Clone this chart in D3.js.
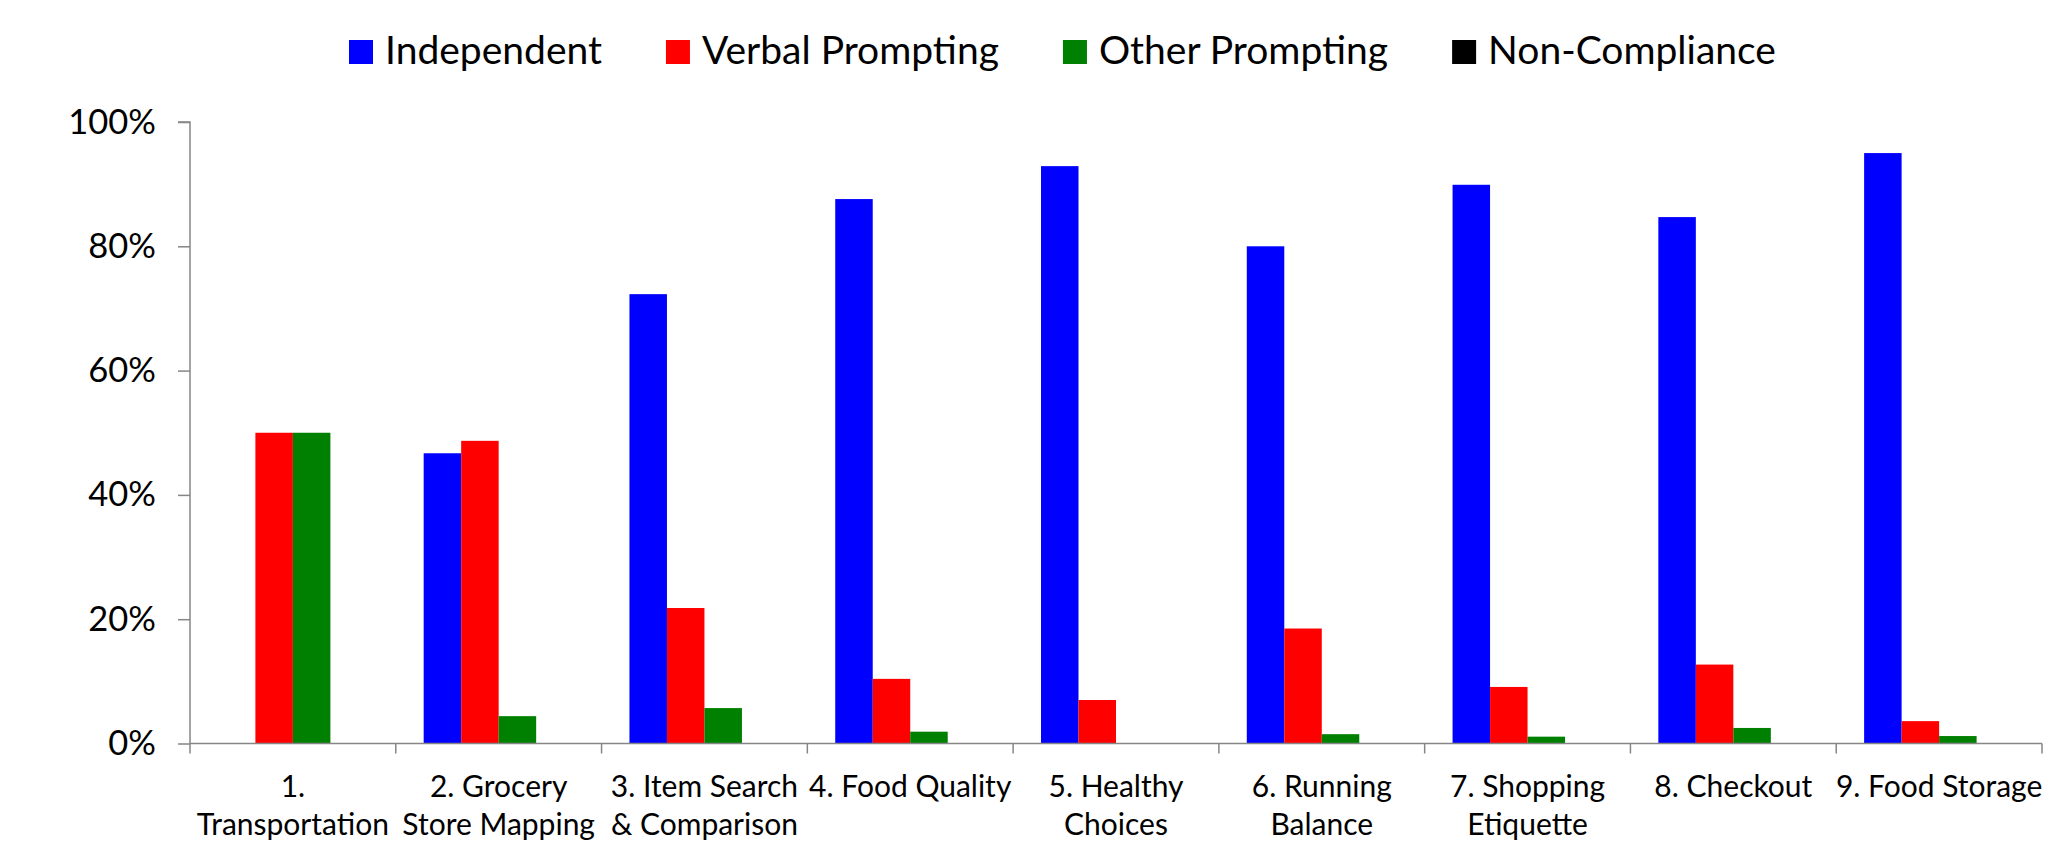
<!DOCTYPE html>
<html>
<head>
<meta charset="utf-8">
<script src="https://cdn.jsdelivr.net/npm/d3@7"></script>
<style>
  html, body { margin: 0; padding: 0; background: #ffffff; }
  svg { display: block; font-family: Lato, "Open Sans", sans-serif; }
</style>
</head>
<body>
<svg id="chart" width="2067" height="842"></svg>
<script>
// ---- data ----
const categories = [
  "1.\nTransportation",
  "2. Grocery\nStore Mapping",
  "3. Item Search\n& Comparison",
  "4. Food Quality",
  "5. Healthy\nChoices",
  "6. Running\nBalance",
  "7. Shopping\nEtiquette",
  "8. Checkout",
  "9. Food Storage"
];
const seriesNames = ["Independent", "Verbal Prompting", "Other Prompting", "Non-Compliance"];
const seriesColors = ["#0000ff", "#ff0000", "#008000", "#000000"];
const independent    = [0, 46.7, 72.3, 87.6, 92.9, 80.0, 89.9, 84.7, 95.0];
const verbalPrompting = [50, 48.7, 21.8, 10.4, 7.0, 18.5, 9.1, 12.7, 3.6];
const otherPrompting  = [50, 4.4, 5.7, 1.9, 0, 1.5, 1.1, 2.5, 1.2];
const nonCompliance   = [0, 0, 0, 0, 0, 0, 0, 0, 0];
const yTicks = [0, 20, 40, 60, 80, 100];

const seriesValues = [independent, verbalPrompting, otherPrompting, nonCompliance];

// ---- layout ----
const svg = d3.select("#chart");
const plotLeft = 190, plotRight = 2042, plotTop = 122, plotBottom = 743.5;

const x0 = d3.scaleBand().domain(categories).range([plotLeft, plotRight]).paddingInner(0).paddingOuter(0);
const x1 = d3.scaleBand().domain(seriesNames).range([0, x0.bandwidth()]).paddingInner(0).paddingOuter(0.744);
const y = d3.scaleLinear().domain([0, 100]).range([plotBottom, plotTop]);

// bars
const groups = svg.append("g").selectAll("g")
  .data(categories)
  .join("g")
  .attr("transform", d => `translate(${x0(d)},0)`);

groups.selectAll("rect")
  .data((d, i) => seriesNames.map((s, j) => ({ s, v: seriesValues[j][i], c: seriesColors[j] })))
  .join("rect")
  .attr("x", d => x1(d.s))
  .attr("width", x1.bandwidth())
  .attr("y", d => y(d.v))
  .attr("height", d => plotBottom - y(d.v))
  .attr("fill", d => d.c);

// y axis
const yAxis = d3.axisLeft(y).tickValues(yTicks).tickSize(12).tickPadding(22)
  .tickFormat(d => d + "%");
const gy = svg.append("g").attr("transform", `translate(${plotLeft},0)`).call(yAxis);
gy.select(".domain").attr("stroke", "#868686").attr("stroke-width", 1.5)
  .attr("d", `M-12,${plotTop}H0V${plotBottom}`);
gy.selectAll(".tick line").attr("stroke", "#868686").attr("stroke-width", 1.5);
gy.selectAll(".tick text").attr("font-size", 34.5).attr("fill", "#000")
  .attr("font-family", "Lato, sans-serif");

// x axis
const gx = svg.append("g").attr("transform", `translate(0,${plotBottom})`);
gx.append("line").attr("x1", plotLeft).attr("x2", plotRight).attr("y1", 0).attr("y2", 0)
  .attr("stroke", "#868686").attr("stroke-width", 1.5);
const boundaries = categories.map(c => x0(c)).concat([plotRight]);
gx.selectAll("line.tk").data(boundaries).join("line").attr("class", "tk")
  .attr("x1", d => d).attr("x2", d => d).attr("y1", 0).attr("y2", 10)
  .attr("stroke", "#868686").attr("stroke-width", 1.5);

const labels = svg.append("g").selectAll("text")
  .data(categories)
  .join("text")
  .attr("text-anchor", "middle")
  .attr("font-size", 30)
  .attr("fill", "#000")
  .attr("transform", d => `translate(${x0(d) + x0.bandwidth() / 2},0)`);
labels.each(function(d) {
  const lines = d.split("\n");
  d3.select(this).selectAll("tspan").data(lines).join("tspan")
    .attr("x", 0)
    .attr("y", (l, i) => 797 + i * 38)
    .text(l => l);
});

// legend
const legend = svg.append("g");
let lx = 349;
seriesNames.forEach((s, i) => {
  const g = legend.append("g");
  g.append("rect").attr("x", lx).attr("y", 40).attr("width", 24).attr("height", 24).attr("fill", seriesColors[i]);
  const t = g.append("text").attr("x", lx + 36).attr("y", 64).attr("font-size", 39).attr("fill", "#000").text(s);
  const w = t.node().getComputedTextLength();
  lx = lx + 36 + w + 64;
});
</script>
</body>
</html>
